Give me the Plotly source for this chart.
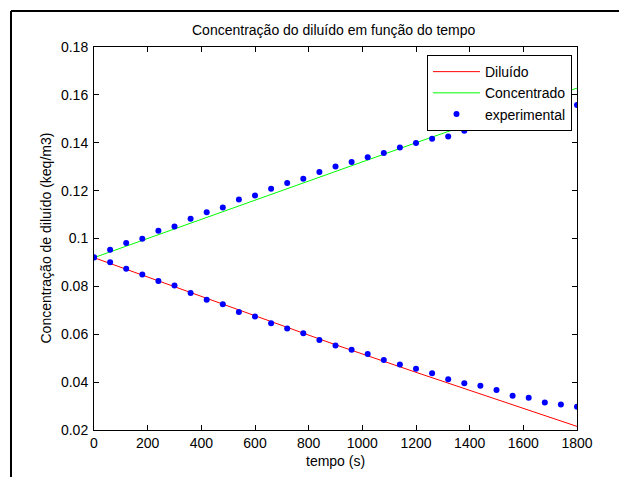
import plotly.graph_objects as go

# ---- data ----
time_exp = [0, 60, 120, 180, 240, 300, 360, 420, 480, 540, 600, 660, 720, 780, 840, 900,
            960, 1020, 1080, 1140, 1200, 1260, 1320, 1380, 1440, 1500, 1560, 1620, 1680, 1740, 1800]
diluido_exp = [0.0921, 0.0901, 0.0874, 0.0850, 0.0822, 0.0804, 0.0772, 0.0744, 0.0725, 0.0693,
               0.0674, 0.0646, 0.0624, 0.0604, 0.0576, 0.0553, 0.0535, 0.0517, 0.0492, 0.0474,
               0.0456, 0.0437, 0.0412, 0.0395, 0.0385, 0.0367, 0.0343, 0.0335, 0.0315, 0.0307, 0.0297]
concentrado_exp = [0.0922, 0.0953, 0.0981, 0.0999, 0.1032, 0.1050, 0.1082, 0.1110, 0.1129, 0.1163,
                   0.1180, 0.1208, 0.1232, 0.1250, 0.1278, 0.1301, 0.1320, 0.1339, 0.1357, 0.1380,
                   0.1399, 0.1417, 0.1426, 0.1450, 0.1468, 0.1486, 0.1499, 0.1515, 0.1530, 0.1545, 0.1558]
time_model = [0, 300, 600, 900, 1200, 1500, 1800]
diluido_model = [0.0920, 0.0799, 0.0676, 0.0556, 0.0441, 0.0327, 0.0215]
concentrado_model = [0.0920, 0.1040, 0.1160, 0.1282, 0.1400, 0.1518, 0.1628]

y_tickvals = [0.02, 0.04, 0.06, 0.08, 0.10, 0.12, 0.14, 0.16, 0.18]
y_ticktext = ["0.02", "0.04", "0.06", "0.08", "0.1", "0.12", "0.14", "0.16", "0.18"]
x_tickvals = [0, 200, 400, 600, 800, 1000, 1200, 1400, 1600, 1800]

title_text = "Concentração do diluído em função do tempo"
xlabel = "tempo (s)"
ylabel = "Concentração de diluído (keq/m3)"

FONT = "Liberation Sans, Arial, sans-serif"

fig = go.Figure()
fig.add_trace(go.Scatter(x=time_model, y=diluido_model, mode="lines", name="Diluído",
                         line=dict(color="#FF0000", width=1)))
fig.add_trace(go.Scatter(x=time_model, y=concentrado_model, mode="lines", name="Concentrado",
                         line=dict(color="#00FF00", width=1)))
fig.add_trace(go.Scatter(x=time_exp, y=diluido_exp, mode="markers", name="experimental",
                         legendgroup="exp", marker=dict(color="#0000FF", size=6)))
fig.add_trace(go.Scatter(x=time_exp, y=concentrado_exp, mode="markers", name="experimental",
                         legendgroup="exp", showlegend=False, marker=dict(color="#0000FF", size=6)))

axis_common = dict(showline=True, linecolor="black", linewidth=1, mirror="ticks",
                   ticks="inside", ticklen=5, tickcolor="black", showgrid=False, zeroline=False,
                   tickfont=dict(family=FONT, size=14, color="black"))

fig.update_xaxes(range=[0, 1800], tickvals=x_tickvals, **axis_common)
fig.update_yaxes(range=[0.02, 0.18], tickvals=y_tickvals, ticktext=y_ticktext,
                 ticklabelstandoff=2, **axis_common)

# page has an 8px body margin, so the figure is sized/offset to compensate
fig.update_layout(
    width=619, height=469,
    margin=dict(l=86, r=50, t=39, b=47),
    paper_bgcolor="white", plot_bgcolor="white",
    font=dict(family=FONT, size=14, color="black"),
    showlegend=True,
    legend=dict(x=0.9896, y=0.979, xanchor="right", yanchor="top",
                bgcolor="white", bordercolor="black", borderwidth=1,
                itemwidth=47,
                font=dict(family=FONT, size=14, color="black"),
                tracegroupgap=0),
    annotations=[
        dict(text=title_text, xref="paper", yref="paper", x=0.496, y=(430 - 30) / 383,
             xanchor="center", yanchor="middle", showarrow=False,
             font=dict(family=FONT, size=14, color="black")),
        dict(text=xlabel, xref="paper", yref="paper", x=0.5, y=(430 - 461) / 383,
             xanchor="center", yanchor="middle", showarrow=False,
             font=dict(family=FONT, size=14, color="black")),
        dict(text=ylabel, xref="paper", yref="paper", x=(45 - 94) / 483, y=0.5,
             xanchor="center", yanchor="middle", showarrow=False, textangle=-90,
             font=dict(family=FONT, size=14, color="black")),
    ],
    shapes=[
        dict(type="line", xref="paper", yref="paper", x0=(11 - 94) / 483, x1=(11 - 94) / 483,
             y0=(430 - 11) / 383, y1=(430 - 480) / 383, line=dict(color="black", width=2)),
        dict(type="line", xref="paper", yref="paper", x0=(11 - 94) / 483, x1=(630 - 94) / 483,
             y0=(430 - 11) / 383, y1=(430 - 11) / 383, line=dict(color="black", width=2)),
    ],
)

fig.write_html("out.html")
